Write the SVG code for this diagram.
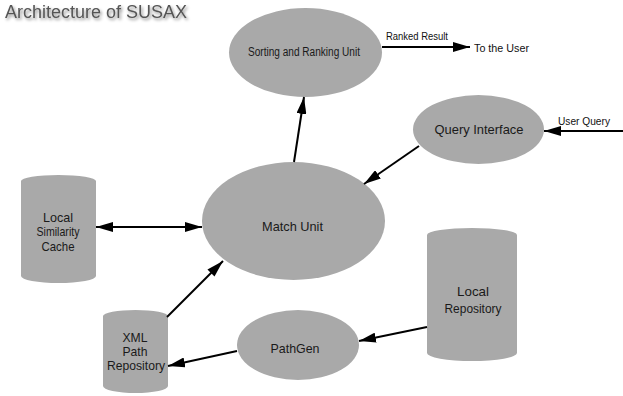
<svg xmlns="http://www.w3.org/2000/svg" width="623" height="396" viewBox="0 0 623 396">
<style>
.shape{fill:#a9a9a9;stroke:none}
.lbl{font-family:"Liberation Sans",Arial,sans-serif;fill:#1a1a1a;text-anchor:middle}
.edge{stroke:#000;stroke-width:2;fill:none;marker-end:url(#ah)}
.small{font-family:"Liberation Sans",Arial,sans-serif;fill:#111;font-size:11px}
</style>
<defs>
<marker id="ah" markerUnits="userSpaceOnUse" markerWidth="18" markerHeight="10" refX="17" refY="5" orient="auto-start-reverse">
<path d="M0,0 L17,5 L0,10 z" fill="#000"/>
</marker>
<filter id="sh" x="-10%" y="-30%" width="120%" height="170%">
<feDropShadow dx="1.5" dy="2" stdDeviation="1.5" flood-color="#000" flood-opacity="0.45"/>
</filter>
</defs>
<rect width="623" height="396" fill="#fff"/>
<text x="5" y="18" font-family="'Liberation Sans',Arial,sans-serif" font-size="18" fill="#555" filter="url(#sh)">Architecture of SUSAX</text>

<g id="sorting">
<ellipse class="shape" cx="305.5" cy="52.5" rx="76.5" ry="44.5"/>
<text class="lbl" x="304" y="56" font-size="12" textLength="112" lengthAdjust="spacingAndGlyphs">Sorting and Ranking Unit</text>
</g>
<g id="query">
<ellipse class="shape" cx="478.5" cy="129.5" rx="65.5" ry="34.5"/>
<text class="lbl" x="479" y="134" font-size="13" textLength="89" lengthAdjust="spacingAndGlyphs">Query Interface</text>
</g>
<g id="match">
<ellipse class="shape" cx="293.5" cy="221" rx="91.5" ry="59"/>
<text class="lbl" x="292.5" y="231" font-size="13" textLength="61" lengthAdjust="spacingAndGlyphs">Match Unit</text>
</g>
<g id="cache">
<path class="shape" d="M21,181 A37.5,6 0 0 1 96,181 L96,276 A37.5,7 0 0 1 21,276 Z"/>
<text class="lbl" x="58" y="222" font-size="13" textLength="30" lengthAdjust="spacingAndGlyphs">Local</text>
<text class="lbl" x="58" y="236" font-size="13" textLength="43" lengthAdjust="spacingAndGlyphs">Similarity</text>
<text class="lbl" x="58" y="251" font-size="13" textLength="33" lengthAdjust="spacingAndGlyphs">Cache</text>
</g>
<g id="xmlrepo">
<path class="shape" d="M103,316 A32.5,6 0 0 1 168,316 L168,386 A32.5,7 0 0 1 103,386 Z"/>
<text class="lbl" x="135" y="342" font-size="13" textLength="25" lengthAdjust="spacingAndGlyphs">XML</text>
<text class="lbl" x="135" y="356" font-size="13" textLength="25" lengthAdjust="spacingAndGlyphs">Path</text>
<text class="lbl" x="136" y="370" font-size="13" textLength="58" lengthAdjust="spacingAndGlyphs">Repository</text>
</g>
<g id="pathgen">
<ellipse class="shape" cx="298" cy="345" rx="61" ry="35"/>
<text class="lbl" x="295" y="353" font-size="13" textLength="49" lengthAdjust="spacingAndGlyphs">PathGen</text>
</g>
<g id="localrepo">
<path class="shape" d="M427,235 A45,7 0 0 1 517,235 L517,353 A45,8 0 0 1 427,353 Z"/>
<text class="lbl" x="473" y="296" font-size="13" textLength="32" lengthAdjust="spacingAndGlyphs">Local</text>
<text class="lbl" x="473" y="313" font-size="13" textLength="57" lengthAdjust="spacingAndGlyphs">Repository</text>
</g>

<g id="connectors">
<line class="edge" x1="382" y1="47" x2="470" y2="47"/>
<line class="edge" x1="623" y1="131" x2="544" y2="131"/>
<line class="edge" x1="419" y1="146" x2="364" y2="184"/>
<line class="edge" x1="294" y1="162" x2="304" y2="97"/>
<line class="edge" x1="96" y1="227" x2="202" y2="227" style="marker-start:url(#ah)"/>
<line class="edge" x1="167" y1="317" x2="223" y2="261"/>
<line class="edge" x1="237" y1="351" x2="168" y2="366"/>
<line class="edge" x1="427" y1="327" x2="359" y2="341"/>
<text class="small" x="386" y="40" textLength="62" lengthAdjust="spacingAndGlyphs">Ranked Result</text>
<text class="small" x="474" y="52" textLength="55" lengthAdjust="spacingAndGlyphs">To the User</text>
<text class="small" x="558" y="125" textLength="52" lengthAdjust="spacingAndGlyphs">User Query</text>
</g>
</svg>
